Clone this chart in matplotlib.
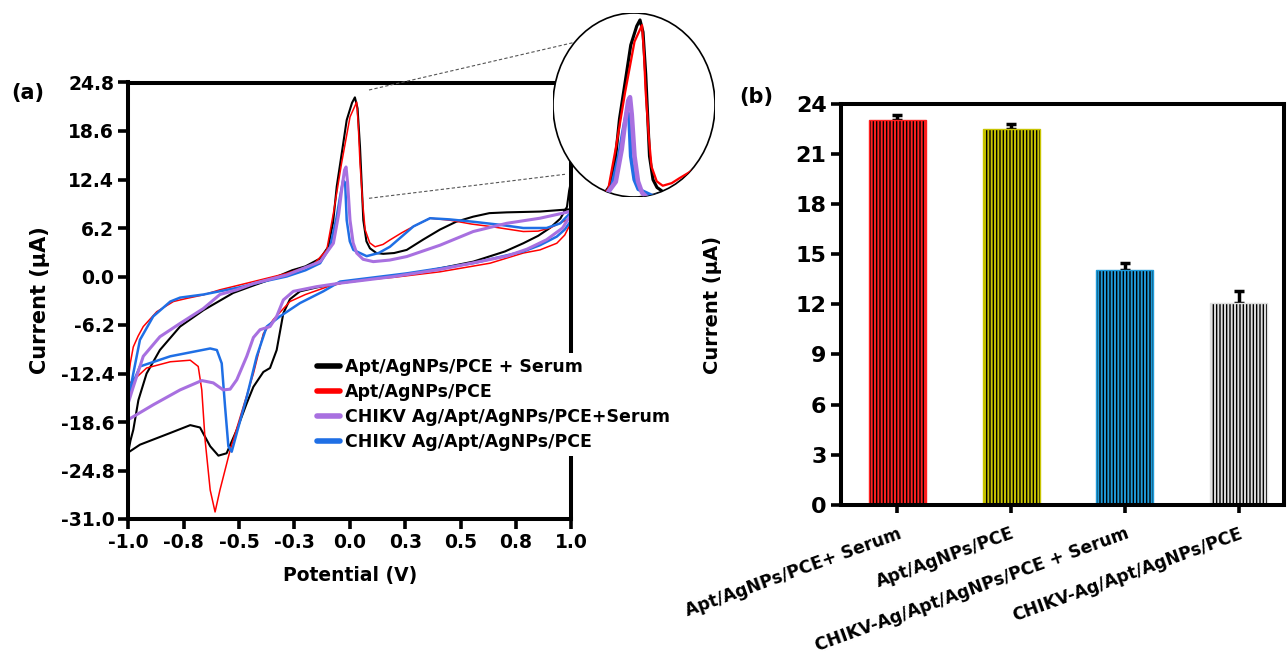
import matplotlib
matplotlib.use("Agg")
import matplotlib.pyplot as plt
from matplotlib.lines import Line2D
from matplotlib.patches import Ellipse
import numpy as np

plt.rcParams["font.family"] = ["DejaVu Sans"]
plt.rcParams["font.weight"] = "bold"
plt.rcParams["axes.labelweight"] = "bold"
plt.rcParams["hatch.linewidth"] = 1.4

# ---- panel (a): cyclic voltammograms (V, uA) ----
serum_x = [-1.0, -0.99, -0.977, -0.954, -0.917, -0.857, -0.766, -0.66, -0.526, -0.43, -0.36,
           -0.26, -0.2, -0.134, -0.097, -0.075, -0.059, -0.035, -0.014, 0.01, 0.023, 0.035,
           0.046, 0.055, 0.061, 0.075, 0.091, 0.12, 0.151, 0.2, 0.257, 0.33, 0.407, 0.48,
           0.557, 0.63, 0.708, 0.858, 0.95, 1.0,
           1.0, 0.99, 0.98, 0.95, 0.903, 0.85, 0.783, 0.7, 0.557, 0.4, 0.257, 0.1, -0.044,
           -0.15, -0.225, -0.27, -0.3, -0.33, -0.36, -0.39, -0.435, -0.465, -0.51, -0.556,
           -0.593, -0.63, -0.676, -0.72, -0.81, -0.947, -1.0]
serum_y = [-22.5, -21.0, -19.6, -15.8, -12.4, -9.4, -6.4, -4.3, -2.1, -1.1, -0.4,
           0.8, 1.3, 2.3, 3.8, 7.0, 11.5, 16.0, 20.0, 22.2, 22.9, 21.5,
           16.6, 11.0, 7.2, 4.5, 3.6, 3.0, 2.9, 3.0, 3.4, 4.7, 6.0, 7.0,
           7.65, 8.1, 8.2, 8.3, 8.5, 8.6,
           12.4, 11.0, 8.9, 7.4, 6.2, 5.2, 4.25, 3.2, 1.9, 1.0, 0.2, -0.3, -0.85,
           -1.4, -1.9, -2.9, -4.7, -9.4, -11.7, -12.2, -14.1, -16.2, -19.6, -22.6,
           -22.9, -21.7, -19.3, -19.0, -20.0, -21.5, -22.5]

apt_x = [-1.0, -0.99, -0.977, -0.955, -0.932, -0.871, -0.796, -0.736, -0.661, -0.586, -0.435,
         -0.285, -0.165, -0.104, -0.074, -0.037, 0.001, 0.031, 0.038, 0.046, 0.058, 0.069,
         0.09, 0.114, 0.15, 0.181, 0.235, 0.287, 0.362, 0.452, 0.55, 0.633, 0.783, 0.85,
         0.903, 0.994,
         1.0, 0.97, 0.934, 0.858, 0.783, 0.633, 0.407, 0.2, 0.0, -0.1, -0.2, -0.27, -0.345,
         -0.39, -0.435, -0.48, -0.54, -0.586, -0.608, -0.63, -0.653, -0.668, -0.684, -0.72,
         -0.81, -0.917, -0.99, -1.0]
apt_y = [-13.2, -11.0, -9.0, -7.6, -6.4, -4.5, -3.2, -2.8, -2.35, -1.7, -0.65,
         0.4, 1.5, 3.4, 8.1, 14.5, 20.4, 22.3, 19.5, 14.5, 9.5, 6.0,
         4.3, 3.8, 4.1, 4.67, 5.6, 6.4, 7.45, 7.2, 6.7, 6.4, 5.75, 5.8,
         6.2, 7.45,
         7.0, 5.3, 4.25, 3.4, 3.0, 1.7, 0.6, -0.1, -0.6, -1.3, -2.3, -3.2, -5.5,
         -7.3, -12.4, -16.6, -22.2, -27.3, -30.1, -27.3, -20.9, -14.5, -11.5, -10.7,
         -10.9, -11.7, -13.6, -13.2]

chikv_serum_x = [-1.0, -0.977, -0.932, -0.857, -0.766, -0.661, -0.586, -0.51, -0.435, -0.285,
                 -0.134, -0.074, -0.05, -0.037, -0.024, -0.017, -0.01, 0.001, 0.015, 0.031,
                 0.06, 0.106, 0.18, 0.257, 0.407, 0.557, 0.708, 0.858, 0.994,
                 1.0, 0.96, 0.888, 0.8, 0.708, 0.407, 0.2, -0.044, -0.15, -0.255, -0.3, -0.33,
                 -0.36, -0.405, -0.435, -0.465, -0.51, -0.54, -0.571, -0.616, -0.668, -0.766,
                 -0.887, -1.0]
chikv_serum_y = [-16.2, -14.1, -10.2, -7.7, -6.0, -4.1, -2.3, -1.7, -0.9, 0.2,
                 1.9, 4.25, 8.0, 11.0, 13.6, 14.0, 12.0, 7.2, 4.3, 3.0,
                 2.2, 1.9, 2.1, 2.55, 4.0, 5.75, 6.8, 7.45, 8.3,
                 8.0, 6.2, 4.7, 3.5, 2.6, 0.9, 0.0, -0.85, -1.3, -1.9, -3.0, -5.1,
                 -6.4, -6.8, -7.8, -10.2, -13.2, -14.4, -14.5, -13.6, -13.3, -14.5,
                 -16.4, -18.3]

chikv_x = [-1.0, -0.977, -0.947, -0.887, -0.81, -0.766, -0.66, -0.5, -0.4, -0.285, -0.2,
           -0.134, -0.089, -0.06, -0.044, -0.03, -0.021, -0.014, 0.0, 0.016, 0.076, 0.13,
           0.181, 0.287, 0.362, 0.45, 0.557, 0.68, 0.783, 0.888, 0.95, 0.994,
           1.0, 0.97, 0.934, 0.858, 0.783, 0.557, 0.257, -0.044, -0.12, -0.225, -0.315,
           -0.375, -0.42, -0.465, -0.51, -0.533, -0.548, -0.563, -0.578, -0.6, -0.63,
           -0.81, -0.947, -0.99, -1.0]
chikv_y = [-15.8, -12.4, -8.1, -5.1, -3.2, -2.7, -2.3, -1.4, -0.7, 0.0, 0.8,
           1.7, 3.8, 7.5, 10.2, 12.3, 12.0, 7.2, 4.5, 3.4, 2.6, 3.0,
           3.8, 6.4, 7.45, 7.3, 7.0, 6.6, 6.2, 6.2, 6.8, 8.1,
           7.2, 6.0, 5.1, 4.0, 3.2, 1.7, 0.4, -0.65, -1.9, -3.4, -5.1,
           -6.4, -10.2, -15.4, -20.0, -22.4, -21.7, -16.6, -11.1, -9.4, -9.2,
           -10.2, -11.5, -14.4, -15.8]

cv_labels = ["Apt/AgNPs/PCE + Serum", "Apt/AgNPs/PCE",
             "CHIKV Ag/Apt/AgNPs/PCE+Serum", "CHIKV Ag/Apt/AgNPs/PCE"]
cv_xticks = [-1.0, -0.75, -0.5, -0.25, 0.0, 0.25, 0.5, 0.75, 1.0]
cv_xticklabels = ["-1.0", "-0.8", "-0.5", "-0.3", "0.0", "0.3", "0.5", "0.8", "1.0"]
cv_yticks = [24.8, 18.6, 12.4, 6.2, 0.0, -6.2, -12.4, -18.6, -24.8, -31.0]

# ---- panel (b): peak currents ----
bar_labels = ["Apt/AgNPs/PCE+ Serum", "Apt/AgNPs/PCE",
              "CHIKV-Ag/Apt/AgNPs/PCE + Serum", "CHIKV-Ag/Apt/AgNPs/PCE"]
bar_values = [23.03, 22.49, 14.07, 12.1]
bar_errors = [0.3, 0.26, 0.4, 0.68]

curve_style = [
    (serum_x, serum_y, "black", 1.5),
    (apt_x, apt_y, "#ff0000", 1.1),
    (chikv_x, chikv_y, "#1f6fe5", 1.8),
    (chikv_serum_x, chikv_serum_y, "#a870e0", 2.2),
]
legend_colors = ["black", "#ff0000", "#a870e0", "#1f6fe5"]
bar_colors = ["#ff2020", "#c8c400", "#1e9ad8", "#e0e0e0"]

W, H = 1287, 659
fig = plt.figure(figsize=(W / 100, H / 100), dpi=100)


def fx(px):
    return px / W


def fy(py):
    return 1 - py / H


# ---------- (a) ----------
ax_a = fig.add_axes([fx(128.2), fy(519), fx(571.4) - fx(128.2), fy(82.5) - fy(519)])
for xs, ys, col, lw in curve_style:
    ax_a.plot(xs, ys, color=col, lw=lw)
ax_a.set_xlim(-1.0, 1.0)
ax_a.set_ylim(-31.0, 24.8)
ax_a.set_xticks(cv_xticks)
ax_a.set_xticklabels(cv_xticklabels)
ax_a.set_yticks(cv_yticks)
ax_a.set_yticklabels([f"{v:.1f}" for v in cv_yticks])
ax_a.tick_params(direction="out", length=7, width=2.6, labelsize=13.5, pad=3)
for sp in ax_a.spines.values():
    sp.set_linewidth(2.9)
ax_a.set_xlabel("Potential (V)", fontsize=13.5, labelpad=10)
fig.text(fx(40), fy(300), "Current (\u00b5A)", rotation=90, fontsize=15,
         ha="center", va="center")

handles = [Line2D([], [], color=c, lw=4, solid_capstyle="round") for c in legend_colors]
leg = ax_a.legend(handles, cv_labels, loc="upper left",
                  bbox_to_anchor=(fx(312), fy(353)), bbox_transform=fig.transFigure,
                  fontsize=12.5, frameon=True, facecolor="white", edgecolor="none",
                  framealpha=1, fancybox=False, borderaxespad=0, borderpad=0.3,
                  handlelength=1.3, handletextpad=0.3, labelspacing=0.4)
leg.set_zorder(10)
fig.text(fx(28), fy(93), "(a)", fontsize=15, ha="center", va="center")

# dashed guides to the zoom circle
for (x0, y0), (x1, y1) in [((369, 90), (573, 42.7)), ((369, 198.3), (565, 174.3))]:
    fig.add_artist(Line2D([fx(x0), fx(x1)], [fy(y0), fy(y1)], transform=fig.transFigure,
                          ls=(0, (3, 2)), lw=0.8, color="#555555", zorder=0.5))

# zoomed peak inside the circle
ax_in = fig.add_axes([fx(553), fy(197), fx(715) - fx(553), fy(13) - fy(197)])
ax_in.set_zorder(2)
ax_in.axis("off")
circle = Ellipse((0.5, 0.5), 1.0, 1.0, transform=ax_in.transAxes,
                 facecolor="white", edgecolor="black", lw=1.2, zorder=0)
ax_in.add_patch(circle)
for xs, ys, col, lw in curve_style:
    ln, = ax_in.plot(xs, ys, color=col, lw=lw * 1.5, zorder=2)
    ln.set_clip_path(circle)
ax_in.set_xlim(-0.325, 0.323)
ax_in.set_ylim(2.5, 23.7)

# ---------- (b) ----------
ax_b = fig.add_axes([fx(840.5), fy(505), fx(1284) - fx(840.5), fy(103.5) - fy(505)])
pos = np.arange(len(bar_values))
for i in range(len(bar_values)):
    ax_b.bar(pos[i], bar_values[i], width=0.5, facecolor="black",
             edgecolor=bar_colors[i], hatch="|||||", lw=1.0, zorder=2)
ax_b.errorbar(pos, bar_values, yerr=[np.zeros(len(bar_errors)), bar_errors],
              fmt="none", ecolor="black", elinewidth=2.5, capsize=3.5, capthick=2.5, zorder=1)
ax_b.set_xlim(-0.5, 3.4)
ax_b.set_ylim(0, 24)
ax_b.set_yticks(np.arange(0, 25, 3))
ax_b.set_xticks(pos)
ax_b.set_xticklabels(bar_labels, rotation=20, ha="right", va="top",
                     rotation_mode="anchor", fontsize=12.3)
ax_b.tick_params(axis="y", direction="out", length=7, width=2.6, labelsize=16, pad=3)
ax_b.tick_params(axis="x", direction="out", length=6, width=2.6, pad=8)
for sp in ax_b.spines.values():
    sp.set_linewidth(2.9)
fig.text(fx(713), fy(305), "Current (\u00b5A)", rotation=90, fontsize=14,
         ha="center", va="center")
fig.text(fx(756), fy(97), "(b)", fontsize=15, ha="center", va="center")

fig.savefig("out.png", dpi=100)
